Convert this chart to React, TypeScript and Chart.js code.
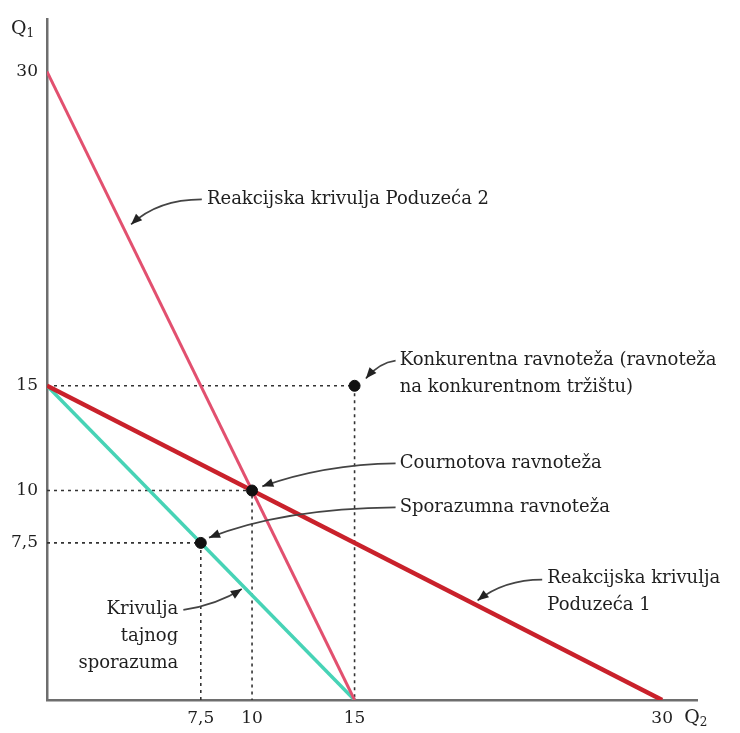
import React, { useEffect, useRef } from "react";
import { Chart, registerables } from "chart.js";

Chart.register(...registerables);

// ---- data ----
const firm2Q2 = [0, 15];
const firm2Q1 = [30, 0];
const firm1Q2 = [0, 30];
const firm1Q1 = [15, 0];
const collusionQ2 = [0, 15];
const collusionQ1 = [15, 0];
const eqQ2 = [15, 10, 7.5];
const eqQ1 = [15, 10, 7.5];
const xTicks = [7.5, 10, 15, 30];
const yTicks = [7.5, 10, 15, 30];

const FONT = "'DejaVu Serif', 'Liberation Serif', serif";
const TEXT = "#1f1f1f";

type Ann = {
  lines: string[];
  tx: number; ty: number; align: CanvasTextAlign;
  from: [number, number]; ctrl: [number, number]; to: [number, number];
};

const annotations: Ann[] = [
  { lines: ["Reakcijska krivulja Poduzeća 2"], tx: 7.8, ty: 23.9, align: "left",
    from: [7.55, 23.9], ctrl: [5.4, 23.9], to: [4.1, 22.7] },
  { lines: ["Konkurentna ravnoteža (ravnoteža", "na konkurentnom tržištu)"], tx: 17.2, ty: 16.2, align: "left",
    from: [17.0, 16.2], ctrl: [16.2, 16.1], to: [15.55, 15.35] },
  { lines: ["Cournotova ravnoteža"], tx: 17.2, ty: 11.3, align: "left",
    from: [17.0, 11.3], ctrl: [13.5, 11.25], to: [10.5, 10.2] },
  { lines: ["Sporazumna ravnoteža"], tx: 17.2, ty: 9.2, align: "left",
    from: [17.0, 9.2], ctrl: [11.5, 9.15], to: [7.9, 7.75] },
  { lines: ["Reakcijska krivulja", "Poduzeća 1"], tx: 24.4, ty: 5.8, align: "left",
    from: [24.15, 5.75], ctrl: [22.3, 5.75], to: [21.0, 4.75] },
  { lines: ["Krivulja", "tajnog", "sporazuma"], tx: 6.4, ty: 4.35, align: "right",
    from: [6.65, 4.3], ctrl: [8.3, 4.55], to: [9.5, 5.3] },
];

const pts = (xs: number[], ys: number[]) => xs.map((x, i) => ({ x, y: ys[i] }));

const annotationPlugin = {
  id: "econAnnotations",
  afterDatasetsDraw(chart: any) {
    const { ctx, scales, chartArea } = chart;
    const xs = scales.x, ys = scales.y;
    const px = (v: number) => xs.getPixelForValue(v);
    const py = (v: number) => ys.getPixelForValue(v);
    ctx.save();
    ctx.font = `18px ${FONT}`;
    ctx.fillStyle = TEXT;
    ctx.textBaseline = "middle";
    for (const a of annotations) {
      ctx.textAlign = a.align;
      a.lines.forEach((l, i) => ctx.fillText(l, px(a.tx), py(a.ty) + i * 27));
      const x1 = px(a.from[0]), y1 = py(a.from[1]);
      const cx = px(a.ctrl[0]), cy = py(a.ctrl[1]);
      const x2 = px(a.to[0]), y2 = py(a.to[1]);
      ctx.strokeStyle = "#444";
      ctx.lineWidth = 1.7;
      ctx.beginPath();
      ctx.moveTo(x1, y1);
      ctx.quadraticCurveTo(cx, cy, x2, y2);
      ctx.stroke();
      const ang = Math.atan2(y2 - cy, x2 - cx);
      const L = 11, W = 4.5;
      ctx.fillStyle = "#222";
      ctx.beginPath();
      ctx.moveTo(x2, y2);
      ctx.lineTo(x2 - L * Math.cos(ang) + W * Math.sin(ang), y2 - L * Math.sin(ang) - W * Math.cos(ang));
      ctx.lineTo(x2 - L * Math.cos(ang) - W * Math.sin(ang), y2 - L * Math.sin(ang) + W * Math.cos(ang));
      ctx.closePath();
      ctx.fill();
      ctx.fillStyle = TEXT;
    }
    const drawQ = (x: number, y: number, sub: string) => {
      ctx.textAlign = "left";
      ctx.font = `19px ${FONT}`;
      ctx.fillText("Q", x, y);
      const w = ctx.measureText("Q").width;
      ctx.font = `12px ${FONT}`;
      ctx.fillText(sub, x + w, y + 5);
    };
    drawQ(chartArea.left - 36, chartArea.top + 10, "1");
    drawQ(px(30) + 22, chartArea.bottom + 18, "2");
    ctx.restore();
  },
};

export default function App() {
  const ref = useRef<HTMLCanvasElement>(null);
  useEffect(() => {
    if (!ref.current) return;
    const dash = { borderColor: "#333", borderWidth: 1.6, borderDash: [3, 4], pointRadius: 0, fill: false };
    const guides = eqQ2.map((q2, i) => ({
      ...dash,
      data: [{ x: 0, y: eqQ1[i] }, { x: q2, y: eqQ1[i] }, { x: q2, y: 0 }],
    }));
    const chart = new Chart(ref.current, {
      type: "line",
      data: {
        datasets: [
          { data: pts(eqQ2, eqQ1), showLine: false, pointRadius: 5.5, pointBackgroundColor: "#111", pointBorderColor: "#111" },
          { data: pts(firm1Q2, firm1Q1), borderColor: "#c9212b", borderWidth: 4.5, pointRadius: 0 },
          { data: pts(firm2Q2, firm2Q1), borderColor: "#e2506f", borderWidth: 3, pointRadius: 0 },
          { data: pts(collusionQ2, collusionQ1), borderColor: "#47d3b6", borderWidth: 3.5, pointRadius: 0 },
          ...guides,
        ] as any,
      },
      options: {
        responsive: false,
        animation: false,
        events: [],
        layout: { padding: { top: 3, right: 43, left: 0, bottom: 0 } },
        plugins: { legend: { display: false }, tooltip: { enabled: false } },
        scales: {
          x: {
            type: "linear", min: 0, max: 31.7,
            grid: { display: false, drawTicks: false },
            border: { display: true, color: "#6e6e6e", width: 2.5 },
            afterBuildTicks: (s: any) => { s.ticks = xTicks.map((v) => ({ value: v })); },
            afterFit: (s: any) => { s.height = 33; },
            ticks: {
              padding: 8, color: TEXT, font: { family: FONT, size: 17 },
              maxRotation: 0, autoSkip: false,
              callback: (v: any) => String(v).replace(".", ","),
            },
          },
          y: {
            type: "linear", min: 0, max: 32.5,
            grid: { display: false, drawTicks: false },
            border: { display: true, color: "#6e6e6e", width: 2.5 },
            afterBuildTicks: (s: any) => { s.ticks = yTicks.map((v) => ({ value: v })); },
            afterFit: (s: any) => { s.width = 47; },
            ticks: {
              padding: 9, color: TEXT, font: { family: FONT, size: 17 }, autoSkip: false,
              callback: (v: any) => String(v).replace(".", ","),
            },
          },
        },
      },
      plugins: [annotationPlugin],
    });
    return () => chart.destroy();
  }, []);
  return (
    <div style={{ position: "fixed", left: 0, top: 0, width: 740, height: 733, background: "#fff" }}>
      <canvas ref={ref} width={740} height={733} />
    </div>
  );
}
